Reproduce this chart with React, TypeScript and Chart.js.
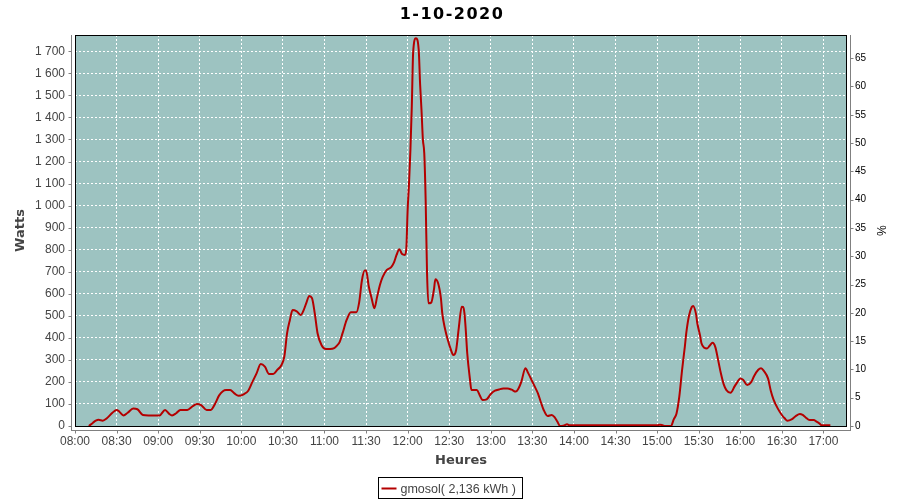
import React, { useEffect, useRef } from 'react';
import { Chart, registerables } from 'chart.js';

Chart.register(...registerables);

// ---- data ----
const TITLE = '1-10-2020';
const SERIES_LABEL = 'gmosol( 2,136 kWh )';
const X_TITLE = 'Heures';
const Y_TITLE = 'Watts';
const Y2_TITLE = '%';

const X_MIN = '08:00';
const X_MAX = '17:17';
const X_STEP_MIN = 30;
const Y_MAX = 1774;
const Y_STEP = 100;
const PCT_MAX = 69.1;
const PCT_STEP = 5;

const times = [
  '08:10', '08:13', '08:15', '08:17', '08:20', '08:23', '08:27', '08:30', '08:32', '08:35',
  '08:38', '08:42', '08:45', '08:49', '08:53', '08:57', '09:01', '09:05', '09:08', '09:10',
  '09:13', '09:16', '09:21', '09:25', '09:28', '09:31', '09:35', '09:38', '09:41', '09:44',
  '09:49', '09:52', '09:55', '09:58', '10:02', '10:05', '10:08', '10:11', '10:14', '10:17',
  '10:20', '10:23', '10:26', '10:29', '10:31', '10:33', '10:35', '10:37', '10:40', '10:43',
  '10:45', '10:47', '10:49', '10:51', '10:53', '10:55', '10:58', '11:01', '11:04', '11:07',
  '11:09', '11:11', '11:13', '11:16', '11:19', '11:23', '11:25', '11:27', '11:29', '11:30',
  '11:32', '11:34', '11:36', '11:38', '11:40', '11:42', '11:45', '11:48', '11:50', '11:52',
  '11:54', '11:56', '11:58', '11:59', '12:00', '12:01', '12:02', '12:03', '12:04', '12:06',
  '12:08', '12:09', '12:10', '12:11', '12:12', '12:13', '12:14', '12:15', '12:17', '12:19',
  '12:20', '12:22', '12:24', '12:25', '12:27', '12:29', '12:31', '12:33', '12:35', '12:37',
  '12:39', '12:40', '12:41', '12:42', '12:43', '12:45', '12:46', '12:48', '12:50', '12:52',
  '12:54', '12:57', '13:00', '13:03', '13:06', '13:09', '13:12', '13:15', '13:18', '13:20',
  '13:22', '13:25', '13:27', '13:30', '13:32', '13:34', '13:36', '13:38', '13:41', '13:44',
  '13:46', '13:48', '13:50', '13:53', '13:55', '13:57', '14:20', '15:00', '15:02', '15:04',
  '15:06', '15:10', '15:12', '15:14', '15:16', '15:18', '15:20', '15:21', '15:23', '15:25',
  '15:26', '15:28', '15:29', '15:31', '15:32', '15:34', '15:36', '15:38', '15:40', '15:42',
  '15:44', '15:46', '15:48', '15:50', '15:53', '15:56', '15:58', '16:00', '16:02', '16:05',
  '16:08', '16:10', '16:13', '16:15', '16:17', '16:20', '16:22', '16:24', '16:27', '16:30',
  '16:32', '16:34', '16:37', '16:40', '16:43', '16:45', '16:47', '16:50', '16:53', '16:55',
  '16:57', '16:59', '17:05',
];

const watts = [
  0, 15, 24, 28, 24, 35, 60, 73, 65, 48,
  60, 79, 76, 50, 48, 48, 48, 73, 55, 48,
  58, 73, 73, 90, 100, 95, 73, 73, 100, 139,
  163, 163, 148, 137, 145, 160, 200, 239, 281, 269,
  236, 236, 255, 277, 314, 420, 480, 526, 520, 504,
  526, 560, 590, 580, 511, 421, 365, 349, 349, 353,
  365, 382, 420, 481, 516, 516, 560, 660, 705, 705,
  632, 580, 534, 587, 640, 677, 708, 720, 740, 776,
  802, 780, 776, 800, 980, 1100, 1252, 1450, 1698, 1759,
  1706, 1550, 1434, 1300, 1237, 1025, 693, 557, 560, 620,
  666, 648, 580, 511, 440, 390, 350, 322, 345, 451,
  541, 540, 511, 430, 330, 210, 163, 163, 163, 140,
  118, 121, 145, 160, 166, 170, 170, 165, 156, 170,
  200, 262, 240, 201, 175, 148, 110, 75, 45, 50,
  40, 20, 0, 3, 8, 3, 3, 3, 6, 3,
  0, 0, 30, 57, 133, 254, 360, 420, 500, 540,
  545, 510, 466, 410, 375, 355, 352, 365, 378, 358,
  300, 239, 190, 163, 151, 181, 200, 216, 210, 186,
  200, 227, 255, 262, 250, 216, 160, 120, 80, 50,
  35, 24, 30, 45, 54, 50, 40, 27, 27, 20,
  12, 3, 3,
];

// ---- styles ----
const PLOT_BG = '#9DC3C1';
const LINE_COLOR = '#B40000';
const AXIS_GRAY = '#808080';
const TEXT_GRAY = '#444444';
const SANS = '"Liberation Sans", Arial, sans-serif';
const BOLD_SANS = '"DejaVu Sans", sans-serif';

const toMin = (s: string) => {
  const [h, m] = s.split(':').map(Number);
  return h * 60 + m;
};
const fmtTime = (v: number) => {
  const h = Math.floor(v / 60);
  const m = Math.round(v - h * 60);
  return `${String(h).padStart(2, '0')}:${String(m).padStart(2, '0')}`;
};
const fmtWatts = (v: number) =>
  v >= 1000 ? `${Math.floor(v / 1000)} ${String(v % 1000).padStart(3, '0')}` : String(v);

const decor = {
  id: 'decor',
  beforeDraw(chart: any) {
    const { ctx, chartArea: a } = chart;
    ctx.save();
    ctx.fillStyle = '#ffffff';
    ctx.fillRect(0, 0, chart.width, chart.height);
    ctx.fillStyle = PLOT_BG;
    ctx.fillRect(a.left, a.top, a.right - a.left, a.bottom - a.top);
    ctx.restore();
  },
  afterDraw(chart: any) {
    const { ctx, chartArea: a } = chart;
    const sx = chart.scales.x;
    const sy = chart.scales.y;
    const sy1 = chart.scales.y1;
    ctx.save();
    // plot border
    ctx.strokeStyle = '#000';
    ctx.lineWidth = 1;
    ctx.strokeRect(a.left + 0.5, a.top + 0.5, a.right - a.left - 1, a.bottom - a.top);

    // offset axis lines + ticks
    ctx.strokeStyle = AXIS_GRAY;
    ctx.beginPath();
    const lx = a.left - 3.5;
    ctx.moveTo(lx, a.top);
    ctx.lineTo(lx, a.bottom + 4);
    sy.ticks.forEach((t: any) => {
      const p = Math.round(sy.getPixelForValue(t.value)) + 0.5;
      ctx.moveTo(lx, p);
      ctx.lineTo(lx - 3, p);
    });
    const rx = a.right + 3.5;
    ctx.moveTo(rx, a.top);
    ctx.lineTo(rx, a.bottom + 4);
    sy1.ticks.forEach((t: any) => {
      const p = Math.round(sy1.getPixelForValue(t.value)) + 0.5;
      ctx.moveTo(rx, p);
      ctx.lineTo(rx + 3, p);
    });
    const by = a.bottom + 4.5;
    ctx.moveTo(a.left - 4, by);
    ctx.lineTo(a.right + 4, by);
    sx.ticks.forEach((t: any) => {
      const p = Math.round(sx.getPixelForValue(t.value)) + 0.5;
      ctx.moveTo(p, by);
      ctx.lineTo(p, by + 3);
    });
    ctx.stroke();

    // title
    ctx.fillStyle = '#000';
    ctx.font = `bold 16px ${BOLD_SANS}`;
    (ctx as any).letterSpacing = '1.5px';
    ctx.textAlign = 'center';
    ctx.textBaseline = 'alphabetic';
    ctx.fillText(TITLE, 452, 19);
    (ctx as any).letterSpacing = '0px';

    // legend
    ctx.font = `12.5px ${SANS}`;
    const tw = ctx.measureText(SERIES_LABEL).width;
    const boxW = Math.round(4 + 15 + 4 + tw + 6);
    const bx = Math.round(450 - boxW / 2) + 0.5;
    const bTop = 477.5;
    ctx.strokeStyle = '#000';
    ctx.lineWidth = 1;
    ctx.strokeRect(bx, bTop, boxW, 21);
    ctx.strokeStyle = LINE_COLOR;
    ctx.lineWidth = 2;
    ctx.beginPath();
    ctx.moveTo(bx + 3, 488.5);
    ctx.lineTo(bx + 18, 488.5);
    ctx.stroke();
    ctx.fillStyle = TEXT_GRAY;
    ctx.textAlign = 'left';
    ctx.fillText(SERIES_LABEL, bx + 22, 493);
    ctx.restore();
  },
};

export default function App() {
  const ref = useRef<HTMLCanvasElement>(null);
  useEffect(() => {
    const points = times.map((t, i) => ({ x: toMin(t), y: watts[i] }));
    const chart = new Chart(ref.current as HTMLCanvasElement, {
      type: 'line',
      data: {
        datasets: [
          {
            label: SERIES_LABEL,
            data: points,
            borderColor: LINE_COLOR,
            backgroundColor: LINE_COLOR,
            borderWidth: 2,
            pointRadius: 0,
            cubicInterpolationMode: 'monotone',
            fill: false,
            yAxisID: 'y',
          },
        ],
      },
      options: {
        animation: false,
        responsive: true,
        maintainAspectRatio: false,
        layout: { padding: { top: 35, left: 0, right: 0, bottom: 0 } },
        plugins: {
          legend: { display: false },
          title: { display: false },
          tooltip: { enabled: false },
        },
        scales: {
          x: {
            type: 'linear',
            min: toMin(X_MIN),
            max: toMin(X_MAX),
            afterFit: (s: any) => {
              s.height = 74;
            },
            ticks: {
              stepSize: X_STEP_MIN,
              includeBounds: false,
              autoSkip: false,
              maxRotation: 0,
              padding: 8,
              color: TEXT_GRAY,
              font: { family: SANS, size: 12 },
              callback: (v: any) => fmtTime(Number(v)),
            },
            grid: { color: '#ffffff', lineWidth: 1, drawTicks: false },
            border: { display: false, dash: [2, 2] },
            title: {
              display: true,
              text: X_TITLE,
              color: TEXT_GRAY,
              font: { family: BOLD_SANS, size: 13, weight: 'bold' },
              padding: { top: 0, bottom: 32 },
            },
          },
          y: {
            position: 'left',
            min: 0,
            max: Y_MAX,
            afterFit: (s: any) => {
              s.width = 75;
            },
            ticks: {
              stepSize: Y_STEP,
              includeBounds: false,
              autoSkip: false,
              padding: 10,
              color: TEXT_GRAY,
              font: { family: SANS, size: 12 },
              callback: (v: any) => fmtWatts(Number(v)),
            },
            grid: { color: '#ffffff', lineWidth: 1, drawTicks: false },
            border: { display: false, dash: [2, 2] },
            title: {
              display: true,
              text: Y_TITLE,
              color: TEXT_GRAY,
              font: { family: BOLD_SANS, size: 13, weight: 'bold' },
              padding: { top: 13, bottom: 0 },
            },
          },
          y1: {
            position: 'right',
            min: 0,
            max: PCT_MAX,
            afterFit: (s: any) => {
              s.width = 53;
            },
            ticks: {
              stepSize: PCT_STEP,
              includeBounds: false,
              autoSkip: false,
              padding: 8,
              color: '#000000',
              font: { family: SANS, size: 10 },
            },
            grid: { drawOnChartArea: false, drawTicks: false },
            border: { display: false },
            title: {
              display: true,
              text: Y2_TITLE,
              color: '#000000',
              font: { family: SANS, size: 12 },
              padding: { top: 12, bottom: 0 },
            },
          },
        },
      } as any,
      plugins: [decor],
    });
    return () => chart.destroy();
  }, []);

  return (
    <div style={{ position: 'absolute', left: 0, top: 0, width: 900, height: 500 }}>
      <canvas ref={ref} />
    </div>
  );
}
